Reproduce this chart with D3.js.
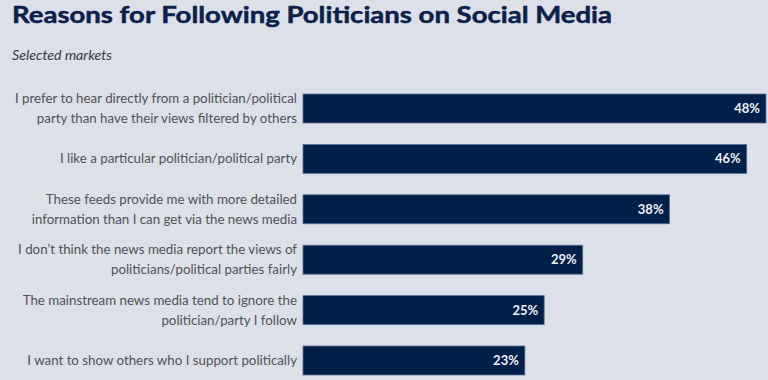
<!DOCTYPE html>
<html>
<head>
<meta charset="utf-8">
<script src="https://cdn.jsdelivr.net/npm/d3@7"></script>
<style>
  html, body { margin: 0; padding: 0; background: #dce0e8; }
  svg { display: block; }
</style>
</head>
<body>
<svg id="chart" width="768" height="380"></svg>
<script>
const title = "Reasons for Following Politicians on Social Media";
const subtitle = "Selected markets";
const categories = [
  ["I prefer to hear directly from a politician/political", "party than have their views filtered by others"],
  ["I like a particular politician/political party"],
  ["These feeds provide me with more detailed", "information than I can get via the news media"],
  ["I don\u2019t think the news media report the views of", "politicians/political parties fairly"],
  ["The mainstream news media tend to ignore the", "politician/party I follow"],
  ["I want to show others who I support politically"]
];
const values = [48, 46, 38, 29, 25, 23];
const valueLabels = ["48%", "46%", "38%", "29%", "25%", "23%"];

const W = 768, H = 380;
const svg = d3.select("#chart");
svg.append("rect").attr("width", W).attr("height", H).attr("fill", "#dce0e8");

svg.append("text")
  .attr("x", 12).attr("y", 23)
  .attr("font-family", "Lato, sans-serif")
  .attr("font-weight", "bold")
  .attr("font-size", 23.5)
  .attr("fill", "#0c2149")
  .attr("stroke", "#0c2149")
  .attr("stroke-width", 0.5)
  .attr("textLength", 600)
  .attr("lengthAdjust", "spacingAndGlyphs")
  .text(title);

svg.append("text")
  .attr("x", 12).attr("y", 60)
  .attr("font-family", "Lato, sans-serif")
  .attr("font-style", "italic")
  .attr("font-size", 14)
  .attr("fill", "#333a44")
  .attr("textLength", 100)
  .attr("lengthAdjust", "spacingAndGlyphs")
  .text(subtitle);

const idx = d3.range(categories.length);
const x = d3.scaleLinear().domain([0, 48]).range([303, 766]);
const y = d3.scaleBand().domain(idx).range([83.3, 385.7]).paddingInner(0.425).paddingOuter(0.2125);

// faint separators
svg.append("g").selectAll("line")
  .data(idx.slice(1))
  .join("line")
  .attr("x1", 0).attr("x2", 768)
  .attr("y1", i => y(i) - (y.step() - y.bandwidth()) / 2)
  .attr("y2", i => y(i) - (y.step() - y.bandwidth()) / 2)
  .attr("stroke", "#e0e3ea")
  .attr("stroke-width", 1);

const rows = svg.append("g").selectAll("g")
  .data(idx)
  .join("g");

rows.append("rect")
  .attr("x", x(0))
  .attr("y", i => y(i))
  .attr("width", i => x(values[i]) - x(0))
  .attr("height", y.bandwidth())
  .attr("fill", "#00204a")
  .attr("stroke", "#5c7091")
  .attr("stroke-width", 0.8);

rows.append("text")
  .attr("x", i => x(values[i]) - 6)
  .attr("y", i => y(i) + y.bandwidth() / 2 + 4.5)
  .attr("text-anchor", "end")
  .attr("font-family", "Lato, sans-serif")
  .attr("font-weight", "bold")
  .attr("font-size", 13)
  .attr("fill", "#eef1f6")
  .text(i => valueLabels[i]);

const lineH = 20;
rows.each(function(i) {
  const lines = categories[i];
  const cy = y(i) + y.bandwidth() / 2;
  const t = d3.select(this).append("text")
    .attr("text-anchor", "end")
    .attr("font-family", "Lato, sans-serif")
    .attr("font-size", 13.3)
    .attr("fill", "#505258");
  lines.forEach((ln, k) => {
    t.append("tspan")
      .attr("x", 297)
      .attr("y", cy + 4.5 + (k - (lines.length - 1) / 2) * lineH)
      .text(ln);
  });
});
</script>
</body>
</html>
